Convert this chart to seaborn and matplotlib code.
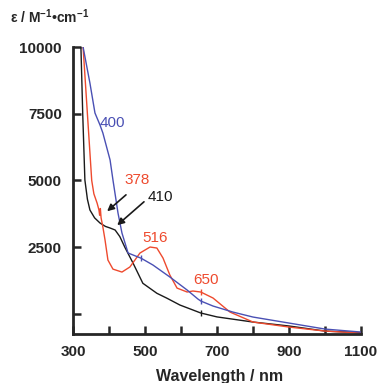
import matplotlib
matplotlib.use("Agg")
import matplotlib.pyplot as plt
import seaborn as sns
import pandas as pd

# spectra (wavelength nm, epsilon)
black_nm = [322, 327, 333, 340, 347, 360, 375, 390, 403, 417, 430, 444, 467, 494, 533, 561, 597, 633, 655, 700, 800, 900, 1000, 1100]
black_eps = [10000, 7500, 5018, 4300, 3894, 3600, 3407, 3280, 3220, 3145, 2900, 2500, 1900, 1150, 775, 590, 335, 150, 36, -110, -302, -450, -640, -700]

red_nm = [328, 340, 352, 358, 367, 372, 374, 376, 378, 383, 389, 397, 411, 436, 458, 486, 514, 533, 550, 569, 589, 617, 633, 655, 689, 736, 800, 900, 1000, 1100]
red_eps = [10000, 7500, 5000, 4500, 4150, 3900, 3700, 3950, 3600, 3257, 2770, 2020, 1680, 1570, 1760, 2283, 2508, 2470, 2095, 1460, 970, 823, 860, 822, 597, 72, -302, -490, -640, -715]

blue_nm = [328, 347, 361, 375, 383, 403, 411, 418, 425, 436, 453, 489, 522, 569, 617, 647, 655, 689, 744, 800, 900, 1000, 1100]
blue_eps = [10000, 8650, 7528, 7078, 6778, 5767, 5018, 4400, 3780, 3032, 2283, 2090, 1834, 1385, 897, 560, 485, 297, 72, -115, -340, -565, -677]

# small cursor marks drawn on the traces
mark_nm = [655, 655, 655, 489]
mark_eps = [36, 822, 485, 2090]
mark_col = ["black", "red", "blue", "blue"]

x_ticks = [300, 500, 700, 900, 1100]
x_minor = [400, 600, 800, 1000]
y_ticks = [0, 2500, 5000, 7500, 10000]
y_labels = ["", "2500", "5000", "7500", "10000"]

BLACK = "#1a1a1a"
RED = "#ee4a2e"
BLUE = "#4a50b4"
palette = {"black": BLACK, "red": RED, "blue": BLUE}

sns.set_style("ticks")
plt.rcParams["font.family"] = ["Liberation Sans", "DejaVu Sans"]
plt.rcParams["mathtext.fontset"] = "custom"
plt.rcParams["mathtext.bf"] = "Liberation Sans:bold"
plt.rcParams["mathtext.rm"] = "Liberation Sans:bold"
plt.rcParams["mathtext.default"] = "bf"

fig = plt.figure(figsize=(3.81, 3.83), dpi=100)
ax = fig.add_axes([73 / 381, 1 - 334 / 383, 288 / 381, 287 / 383])

sns.lineplot(x=black_nm, y=black_eps, ax=ax, color=BLACK, linewidth=1.0, sort=False)
sns.lineplot(x=red_nm, y=red_eps, ax=ax, color=RED, linewidth=1.0, sort=False)
sns.lineplot(x=blue_nm, y=blue_eps, ax=ax, color=BLUE, linewidth=1.0, sort=False)

marks = pd.DataFrame({"nm": mark_nm, "eps": mark_eps, "trace": mark_col})
sns.scatterplot(data=marks, x="nm", y="eps", hue="trace", palette=palette, marker="|",
                s=16, linewidth=1.0, legend=False, ax=ax)

ax.set_xlim(300, 1100)
ax.set_ylim(-750, 10000)
ax.set_xticks(x_ticks + x_minor)
ax.set_xticklabels([str(t) if t in x_ticks else "" for t in x_ticks + x_minor])
ax.set_yticks(y_ticks)
ax.set_yticklabels(y_labels)
ax.tick_params(direction="in", length=6, width=1.8, labelsize=11, pad=8)
for lab in ax.get_xticklabels() + ax.get_yticklabels():
    lab.set_fontweight("bold")
for side in ["top", "right"]:
    ax.spines[side].set_visible(False)
for side in ["left", "bottom"]:
    ax.spines[side].set_linewidth(2)
ax.set_xlabel("")
ax.set_ylabel("")

fig.text(220 / 381, 1 - 377 / 383, "Wavelength / nm", ha="center", va="center",
         fontsize=11.5, fontweight="bold")
fig.text(10 / 381, 1 - 17 / 383, r"ε / M$^{-1}$•cm$^{-1}$", ha="left", va="center",
         fontsize=10, fontweight="bold")

# peak labels
ax.text(375, 7150, "400", color=BLUE, fontsize=11, ha="left", va="center")
ax.text(444, 5018, "378", color=RED, fontsize=11, ha="left", va="center")
ax.text(494, 2845, "516", color=RED, fontsize=11, ha="left", va="center")
ax.text(633, 1272, "650", color=RED, fontsize=11, ha="left", va="center")
ax.text(508, 4381, "410", color=BLACK, fontsize=11, ha="left", va="center")
ax.annotate("", xy=(389, 3780), xytext=(453, 4530),
            arrowprops=dict(arrowstyle="-|>", color=BLACK, lw=1.2, mutation_scale=10))
ax.annotate("", xy=(417, 3257), xytext=(503, 4270),
            arrowprops=dict(arrowstyle="-|>", color=BLACK, lw=1.2, mutation_scale=10))

fig.savefig("out.png", dpi=100)
